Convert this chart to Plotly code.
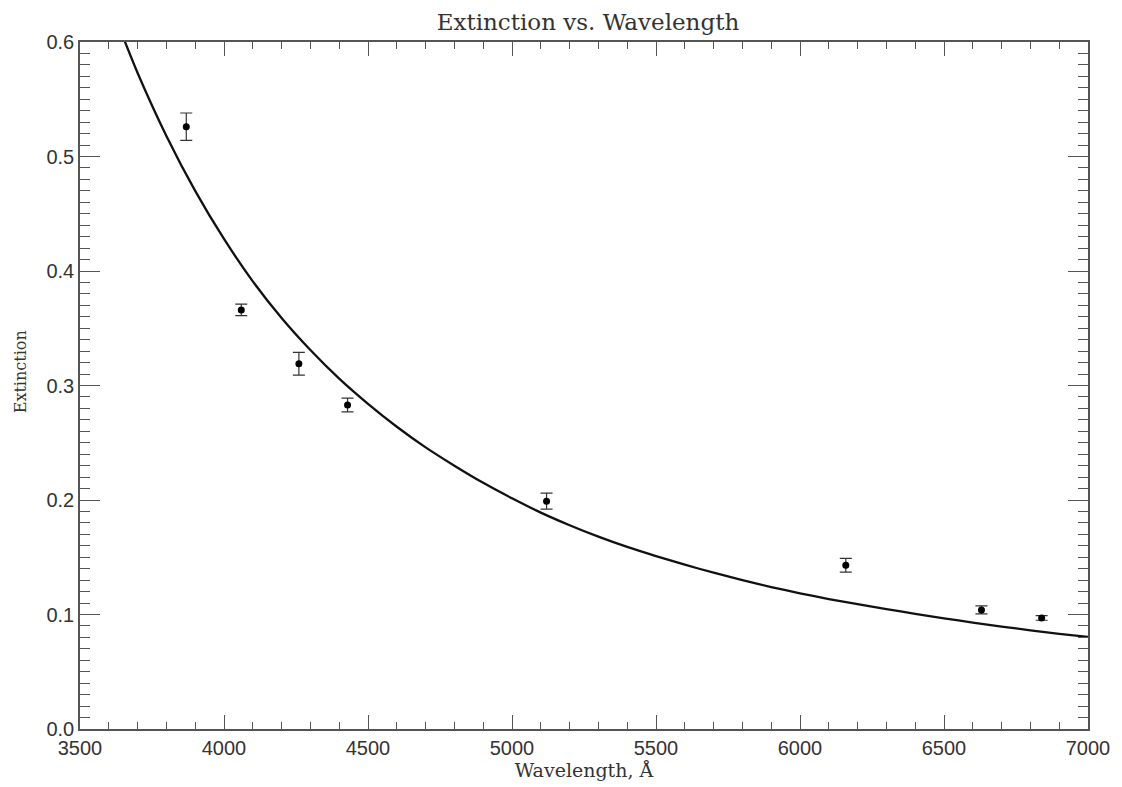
import plotly.graph_objects as go

# Measured points
wavelength = [3869, 4060, 4260, 4429, 5120, 6159, 6630, 6839]
extinction = [0.526, 0.366, 0.319, 0.283, 0.199, 0.143, 0.104, 0.097]
ext_err = [0.012, 0.005, 0.010, 0.006, 0.007, 0.006, 0.0035, 0.002]

# Fitted curve
curve_wl = [3650, 3700, 3800, 3900, 4000, 4100, 4200, 4300, 4400, 4500,
            4600, 4700, 4800, 4900, 5000, 5100, 5200, 5300, 5400, 5500,
            5600, 5700, 5800, 5900, 6000, 6100, 6200, 6300, 6400, 6500,
            6600, 6700, 6800, 6900, 7000]
curve_ext = [0.604, 0.573, 0.518, 0.470, 0.428, 0.391, 0.359, 0.331, 0.306, 0.284,
             0.264, 0.246, 0.230, 0.215, 0.2015, 0.189, 0.178, 0.168, 0.159, 0.151,
             0.1435, 0.1365, 0.130, 0.124, 0.1185, 0.1135, 0.109, 0.1047, 0.1006, 0.0967,
             0.0930, 0.0895, 0.0862, 0.0831, 0.0805]

x_ticks = [3500, 4000, 4500, 5000, 5500, 6000, 6500, 7000]
y_ticks = [0.0, 0.1, 0.2, 0.3, 0.4, 0.5, 0.6]
y_ticklabels = ["0.0", "0.1", "0.2", "0.3", "0.4", "0.5", "0.6"]

axis_col = "#555555"
text_col = "#333333"

fig = go.Figure()
fig.add_trace(go.Scatter(
    x=curve_wl, y=curve_ext, mode="lines",
    line=dict(color="#111111", width=2.3, shape="spline", smoothing=0.5),
    showlegend=False, hoverinfo="skip"))
fig.add_trace(go.Scatter(
    x=wavelength, y=extinction, mode="markers",
    marker=dict(color="#000000", size=7),
    error_y=dict(type="data", array=ext_err, visible=True, color="#333333",
                 thickness=1.2, width=6),
    showlegend=False))

fig.update_layout(
    width=1122, height=787,
    margin=dict(l=80, r=27, t=42, b=58),
    paper_bgcolor="white", plot_bgcolor="white",
    title=dict(text="Extinction vs. Wavelength", x=0.524, xanchor="center",
               y=0.972, yanchor="middle",
               font=dict(family="DejaVu Serif", size=23, color=text_col)),
    xaxis=dict(range=[3500, 7000], tickvals=x_ticks,
               ticks="inside", ticklen=14, tickwidth=1.3, tickcolor=axis_col,
               minor=dict(ticks="inside", ticklen=7, dtick=100, tickwidth=1.3,
                          tickcolor=axis_col),
               showline=True, linecolor=axis_col, linewidth=1.5, mirror="ticks",
               showgrid=False, zeroline=False,
               tickfont=dict(family="Liberation Sans", size=20, color=text_col),
               title=dict(text="Wavelength, Å", standoff=2,
                          font=dict(family="DejaVu Serif", size=19, color=text_col))),
    yaxis=dict(range=[0, 0.6], tickvals=y_ticks, ticktext=y_ticklabels,
               ticks="inside", ticklen=20, tickwidth=1.3, tickcolor=axis_col,
               minor=dict(ticks="inside", ticklen=10, dtick=0.01, tickwidth=1.3,
                          tickcolor=axis_col),
               showline=True, linecolor=axis_col, linewidth=1.5, mirror="ticks",
               showgrid=False, zeroline=False,
               tickfont=dict(family="Liberation Sans", size=20, color=text_col)),
    annotations=[dict(text="Extinction", textangle=-90, xref="paper", yref="paper",
                      x=-0.059, y=0.52, xanchor="center", yanchor="middle",
                      showarrow=False,
                      font=dict(family="DejaVu Serif", size=16, color=text_col))],
)

fig.write_html("out.html")
